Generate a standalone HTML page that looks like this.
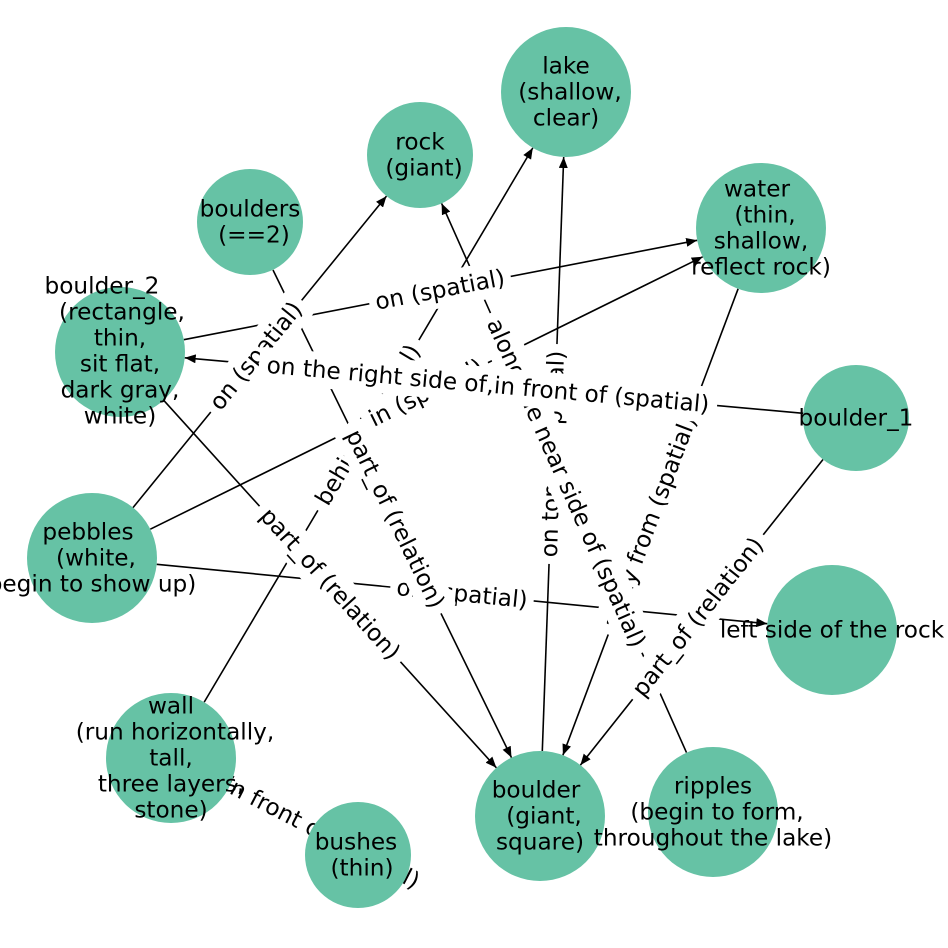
<!DOCTYPE html>
<html><head><meta charset="utf-8"><style>
html,body{margin:0;padding:0;background:#fff;}
svg{display:block;font-family:"DejaVu Sans","Liberation Sans",sans-serif;}
.el{font-size:23.2px;fill:#000;}
.nl{font-size:23.2px;fill:#000;}
</style></head><body>
<svg width="948" height="948" viewBox="0 0 948 948" xmlns="http://www.w3.org/2000/svg">
<defs>
<marker id="a" markerUnits="userSpaceOnUse" markerWidth="12" markerHeight="9" refX="11" refY="4.5" orient="auto">
<path d="M0,0 L11,4.5 L0,9 z" fill="#000"/>
</marker>
</defs>
<g stroke="#000" stroke-width="1.6" fill="none" marker-end="url(#a)">
<line x1="273" y1="270" x2="511.5" y2="757.6"/>
<line x1="163.6" y1="400.2" x2="496.4" y2="767.8"/>
<line x1="823" y1="459.5" x2="580.4" y2="765.1"/>
<line x1="686.5" y1="752.6" x2="441.6" y2="203.4"/>
<line x1="542.3" y1="751" x2="563.7" y2="157"/>
<line x1="738.1" y1="288.8" x2="562.9" y2="755.2"/>
<line x1="133" y1="507.6" x2="386.5" y2="196.1"/>
<line x1="183.8" y1="339.7" x2="697.2" y2="240.3"/>
<line x1="803.2" y1="413.3" x2="184.7" y2="357.8"/>
<line x1="150.3" y1="529.2" x2="702.7" y2="256.8"/>
<line x1="204.2" y1="702.1" x2="532.8" y2="147.9"/>
<line x1="156.7" y1="564.3" x2="767.3" y2="623.7"/>
<line x1="228.7" y1="787.9" x2="311" y2="830.6"/>
</g>
<g class="el" text-anchor="middle" dominant-baseline="central">
<g transform="translate(256,356) rotate(-50.9)"><rect x="-72" y="-18" width="144" height="36" rx="5" fill="#fff"/><text>on (spatial)</text></g>
<g transform="translate(440,290) rotate(-10.9)"><rect x="-72" y="-18" width="144" height="36" rx="5" fill="#fff"/><text>on (spatial)</text></g>
<g transform="translate(368,425) rotate(-59.3)"><rect x="-99" y="-18" width="198" height="36" rx="5" fill="#fff"/><text>behind (spatial)</text></g>
<g transform="translate(426,393) rotate(-26.3)"><rect x="-69" y="-18" width="138" height="36" rx="5" fill="#fff"/><text>in (spatial)</text></g>
<g transform="translate(553,454) rotate(-88)"><rect x="-110" y="-18" width="220" height="36" rx="5" fill="#fff"/><text>on top of (spatial)</text></g>
<g transform="translate(650,522) rotate(-69.4)"><rect x="-120" y="-18" width="240" height="36" rx="5" fill="#fff"/><text>away from (spatial)</text></g>
<g transform="translate(462,594) rotate(5.6)"><rect x="-72" y="-18" width="144" height="36" rx="5" fill="#fff"/><text>on (spatial)</text></g>
<g transform="translate(322,833) rotate(27.4)"><rect x="-115" y="-18" width="230" height="36" rx="5" fill="#fff"/><text>in front of (spatial)</text></g>
<g transform="translate(395,519) rotate(64)"><rect x="-105" y="-18" width="210" height="36" rx="5" fill="#fff"/><text>part_of (relation)</text></g>
<g transform="translate(330,584) rotate(47.8)"><rect x="-105" y="-18" width="210" height="36" rx="5" fill="#fff"/><text>part_of (relation)</text></g>
<g transform="translate(698,617) rotate(-51.6)"><rect x="-105" y="-18" width="210" height="36" rx="5" fill="#fff"/><text>part_of (relation)</text></g>
<g transform="translate(566,483) rotate(66)"><rect x="-186" y="-18" width="372" height="36" rx="5" fill="#fff"/><text>along the near side of (spatial)</text></g>
<g transform="translate(488,385) rotate(5.1)"><rect x="-230" y="-18" width="460" height="36" rx="5" fill="#fff"/><text>on the right side of,in front of (spatial)</text></g>
</g>
<g fill="#66c2a5">
<circle cx="566" cy="92" r="65"/>
<circle cx="420" cy="155" r="53"/>
<circle cx="250" cy="222" r="53"/>
<circle cx="761" cy="228" r="65"/>
<circle cx="120" cy="352" r="65"/>
<circle cx="856" cy="418" r="53"/>
<circle cx="92" cy="558" r="65"/>
<circle cx="832" cy="630" r="65"/>
<circle cx="171" cy="758" r="65"/>
<circle cx="540" cy="816" r="65"/>
<circle cx="713" cy="812" r="65"/>
<circle cx="358" cy="855" r="53"/>
</g>
<g class="nl" text-anchor="middle" dominant-baseline="central">
<text x="566" y="66">lake</text><text x="570" y="92">(shallow,</text><text x="566" y="118">clear)</text>
<text x="420" y="142">rock</text><text x="424" y="168">(giant)</text>
<text x="250" y="209">boulders</text><text x="254" y="235">(==2)</text>
<text x="757" y="189">water</text><text x="765" y="215">(thin,</text><text x="761" y="241">shallow,</text><text x="761" y="267">reflect rock)</text>
<text x="102" y="286">boulder_2</text><text x="122" y="312">(rectangle,</text><text x="120" y="338">thin,</text><text x="120" y="364">sit flat,</text><text x="120" y="390">dark gray,</text><text x="120" y="416">white)</text>
<text x="856" y="418">boulder_1</text>
<text x="88" y="532">pebbles</text><text x="96" y="558">(white,</text><text x="92" y="584">begin to show up)</text>
<text x="832" y="630">left side of the rock</text>
<text x="171" y="706">wall</text><text x="175" y="732">(run horizontally,</text><text x="171" y="758">tall,</text><text x="171" y="784">three layers,</text><text x="171" y="810">stone)</text>
<text x="536" y="790">boulder</text><text x="544" y="816">(giant,</text><text x="540" y="842">square)</text>
<text x="713" y="786">ripples</text><text x="717" y="812">(begin to form,</text><text x="713" y="838">throughout the lake)</text>
<text x="356" y="842">bushes</text><text x="362" y="868">(thin)</text>
</g>
</svg>
</body></html>
